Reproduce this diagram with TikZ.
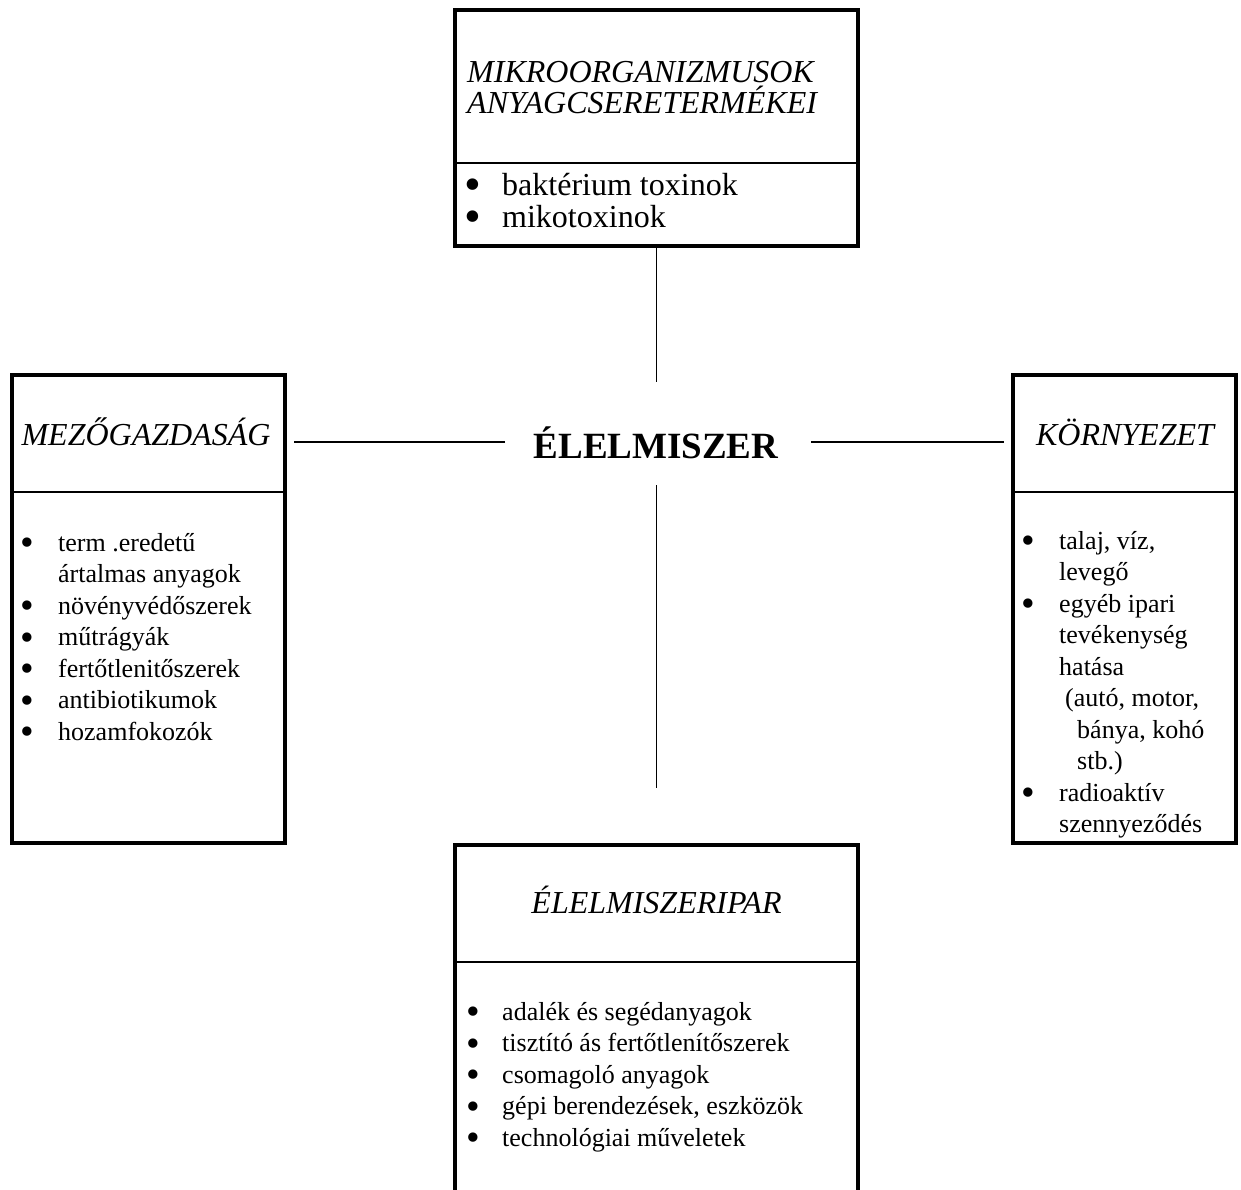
\documentclass[tikz,border=0pt]{standalone}
\usepackage{fontspec}
\setmainfont{Liberation Serif}
\newcommand{\bodyfont}{\fontsize{26}{31.5}\selectfont}
\newcommand{\topfont}{\fontsize{32}{32}\selectfont}
\newcommand{\titlefont}{\itshape\fontsize{32}{32}\selectfont}
\newcommand{\blt}{\raisebox{-0.18em}{\scalebox{1.5}{\textbullet}}}
\begin{document}
\begin{tikzpicture}[x=1pt,y=-1pt,
  box/.style={draw, line width=4pt, inner sep=0pt},
  divider/.style={draw, line width=2pt},
  conn/.style={draw, line width=1.8pt},
  title/.style={anchor=base, inner sep=0pt, font=\titlefont},
  ltitle/.style={anchor=base west, inner sep=0pt, font=\titlefont},
  list/.style={anchor=base west, inner sep=0pt}]
\useasboundingbox (0,0) rectangle (1241,1189);
\fill[white] (0,0) rectangle (1241,1189);

% boxes
\node[box, minimum width=403pt, minimum height=236pt] (mikro) at (656.5,128) {};
\node[box, minimum width=273pt, minimum height=468pt] (mezo) at (148.5,609) {};
\node[box, minimum width=223pt, minimum height=468pt] (korny) at (1124.5,609) {};
\node[box, minimum width=403pt, minimum height=360pt] (ipar) at (656.5,1025) {};

% dividers
\draw[divider] (mikro.west |- 0,163) -- (mikro.east |- 0,163);
\draw[divider] (mezo.west |- 0,492) -- (mezo.east |- 0,492);
\draw[divider] (korny.west |- 0,492) -- (korny.east |- 0,492);
\draw[divider] (ipar.west |- 0,962) -- (ipar.east |- 0,962);

% center
\node[anchor=base, inner sep=0pt, font=\bfseries\fontsize{37}{37}\selectfont] (food) at (656,458) {ÉLELMISZER};

% titles
\node[ltitle] (mikroA) at (467,82) {MIKROORGANIZMUSOK};
\node[ltitle] (mikroB) at (467,113) {ANYAGCSERETERMÉKEI};
\node[title] (mezot) at (146,445) {MEZŐGAZDASÁG};
\node[title] (kornyt) at (1125,445) {KÖRNYEZET};
\node[title] (ipart) at (656.5,913) {ÉLELMISZERIPAR};

% lists
\node[list] (mikrol) at (464,195) {\topfont
\begin{tabular}[t]{@{}p{38pt}@{}l@{}}
\blt & baktérium toxinok\\
\blt & mikotoxinok
\end{tabular}};

\node[list] (mezol) at (20,551) {\bodyfont
\begin{tabular}[t]{@{}p{38pt}@{}l@{}}
\blt & term .eredetű\\
 & ártalmas anyagok\\
\blt & növényvédőszerek\\
\blt & műtrágyák\\
\blt & fertőtlenitőszerek\\
\blt & antibiotikumok\\
\blt & hozamfokozók
\end{tabular}};

\node[list] (kornyl) at (1021,549) {\bodyfont
\begin{tabular}[t]{@{}p{38pt}@{}l@{}}
\blt & talaj, víz,\\
 & levegő\\
\blt & egyéb ipari\\
 & tevékenység\\
 & hatása\\
 & \hspace{6pt}(autó, motor,\\
 & \hspace{18pt}bánya, kohó\\
 & \hspace{18pt}stb.)\\
\blt & radioaktív\\
 & szennyeződés
\end{tabular}};

\node[list] (iparl) at (466,1020) {\bodyfont
\begin{tabular}[t]{@{}p{36pt}@{}l@{}}
\blt & adalék és segédanyagok\\
\blt & tisztító ás fertőtlenítőszerek\\
\blt & csomagoló anyagok\\
\blt & gépi berendezések, eszközök\\
\blt & technológiai műveletek
\end{tabular}};

% connectors
\coordinate (topend) at (656.5,382);
\coordinate (botstart) at (656.5,485);
\coordinate (la) at (505,442);
\coordinate (ra) at (811,442);
\draw[conn] (mikro.south) -- (topend);
\draw[conn, shorten >=55pt] (botstart) -- (ipar.north);
\draw[conn, shorten >=7pt] (la) -- (la -| mezo.east);
\draw[conn, shorten >=7pt] (ra) -- (ra -| korny.west);
\end{tikzpicture}
\end{document}
